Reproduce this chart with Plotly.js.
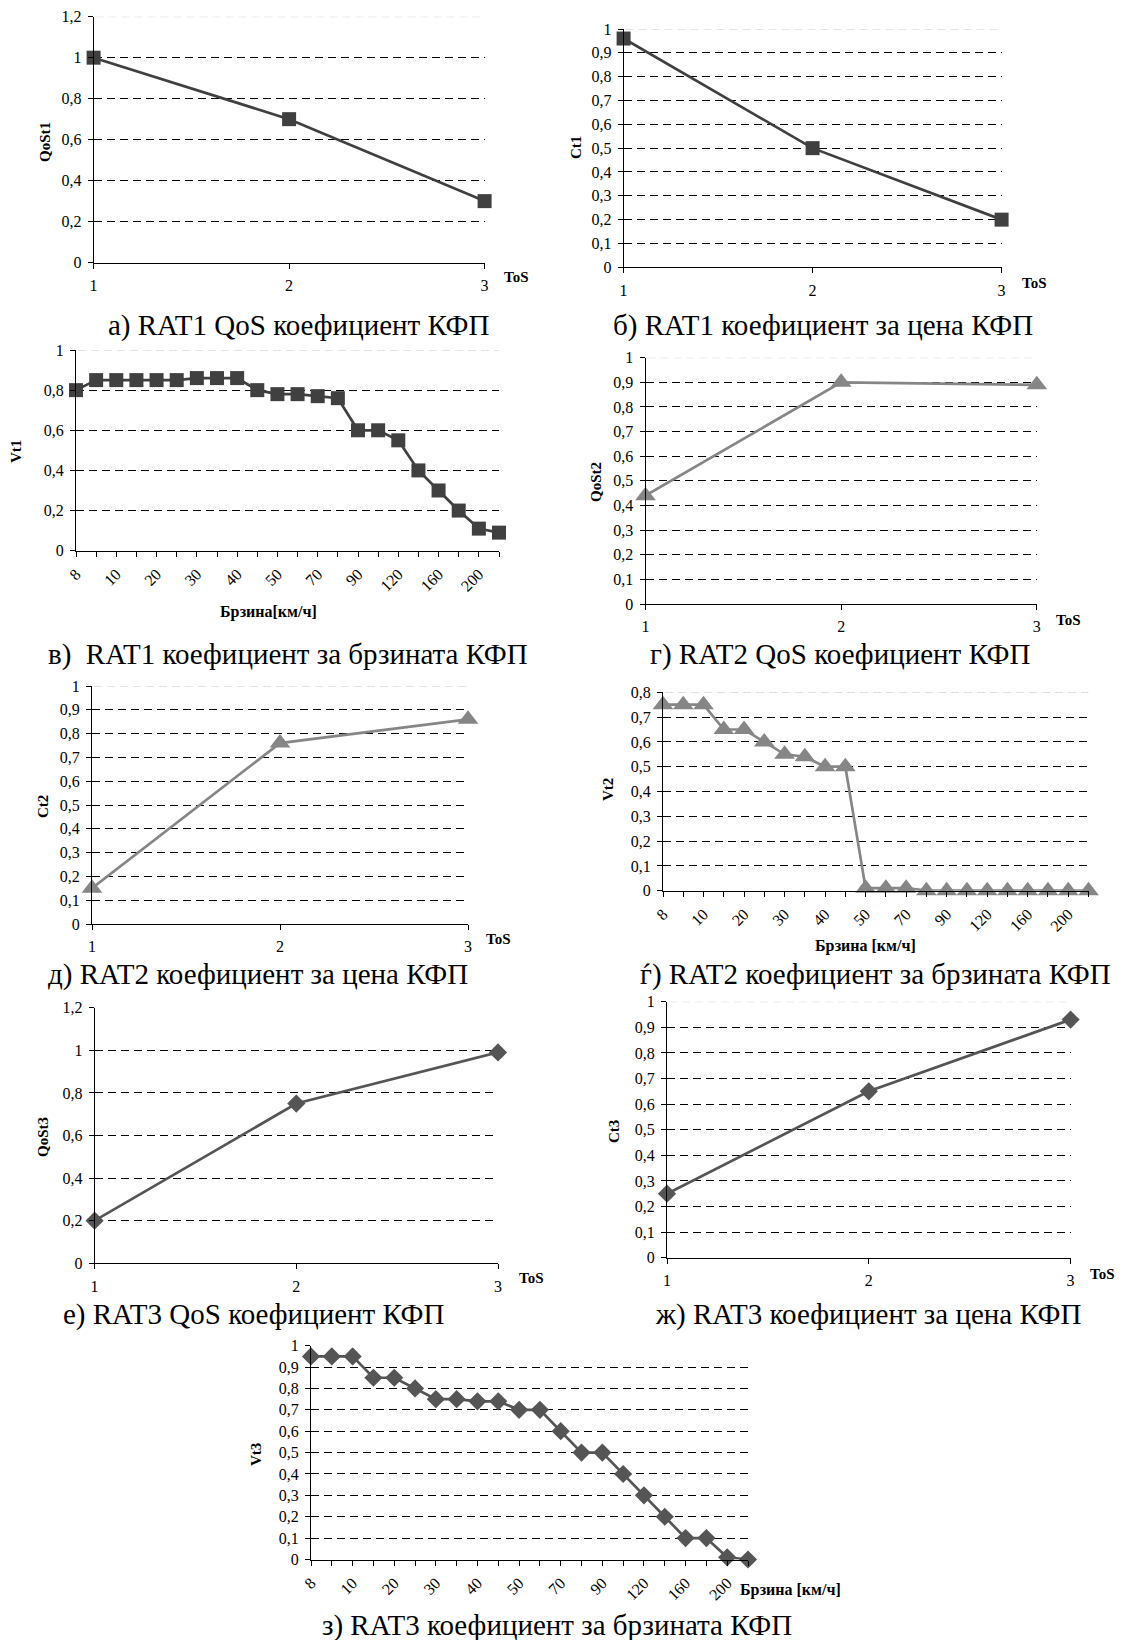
<!DOCTYPE html>
<html><head><meta charset="utf-8">
<script src="https://cdn.plot.ly/plotly-3.0.1.min.js"></script>
<style>body{margin:0;background:#fff}#c{width:1123px;height:1640px}</style>
</head><body><div id="c"></div><script>
// ---- data ----
const tos = [1, 2, 3];
const qosT1 = [1.00, 0.70, 0.30];
const cT1 = [0.96, 0.50, 0.20];
const qosT2 = [0.44, 0.90, 0.89];
const cT2 = [0.15, 0.76, 0.86];
const qosT3 = [0.20, 0.75, 0.99];
const cT3 = [0.25, 0.65, 0.93];
const speeds = ['8','9','10','15','20','25','30','35','40','45','50','60','70','80','90','100','120','140','160','180','200','220'];
const vT1 = [0.80,0.85,0.85,0.85,0.85,0.85,0.86,0.86,0.86,0.80,0.78,0.78,0.77,0.76,0.60,0.60,0.55,0.40,0.30,0.20,0.11,0.09];
const vT2 = [0.75,0.75,0.75,0.65,0.65,0.60,0.55,0.54,0.50,0.50,0.01,0.01,0.01,0,0,0,0,0,0,0,0,0];
const vT3 = [0.95,0.95,0.95,0.85,0.85,0.80,0.75,0.75,0.74,0.74,0.70,0.70,0.60,0.50,0.50,0.40,0.30,0.20,0.10,0.10,0.01,0];
const speedTickText = speeds.map((s, i) => (i % 2 === 0 ? s : ''));
const captions = [
  'а) RAT1 QoS коефициент КФП',
  'б) RAT1 коефициент за цена КФП',
  'в)  RAT1 коефициент за брзината КФП',
  'г) RAT2 QoS коефициент КФП',
  'д) RAT2 коефициент за цена КФП',
  'ѓ) RAT2 коефициент за брзината КФП',
  'е) RAT3 QoS коефициент КФП',
  'ж) RAT3 коефициент за цена КФП',
  'з) RAT3 коефициент за брзината КФП'
];
const yTitles = ['QoSt1','Ct1','Vt1','QoSt2','Ct2','Vt2','QoSt3','Ct3','Vt3'];

// ---- layout config (pixels) ----
const W = 1123, H = 1640;
const C1 = '#404040', C2 = '#868686', C3 = '#555555';
const FONT = 'Liberation Serif, serif';
const panels = [
  {x: tos, y: qosT1, kind:'tos', box:[93.6,484.6,16.7,262.6], ymax:1.2, dtick:0.2, col:C1, sym:'square', ms:14, topGray:true,
   cap:[298,325], yt:[45,142], xt:[516,277], xtText:'ToS'},
  {x: tos, y: cT1, kind:'tos', box:[623.6,1001.6,29,267.3], ymax:1, dtick:0.1, col:C1, sym:'square', ms:14, topGray:true,
   cap:[823,325], yt:[576,148], xt:[1034,283], xtText:'ToS'},
  {x: speeds, y: vT1, kind:'speed', box:[76,499,350,550.7], ymax:1, dtick:0.2, col:C1, sym:'square', ms:14, topGray:true,
   cap:[288,654], yt:[16,452], xt:[268,612], xtText:'Брзина[км/ч]'},
  {x: tos, y: qosT2, kind:'tos', box:[645.5,1036.8,357.7,604], ymax:1, dtick:0.1, col:C2, sym:'triangle-up', ms:18, topGray:true,
   cap:[840,654], yt:[596,482], xt:[1068,620], xtText:'ToS'},
  {x: tos, y: cT2, kind:'tos', box:[92,468,686,924], ymax:1, dtick:0.1, col:C2, sym:'triangle-up', ms:18, topGray:true,
   cap:[258,974], yt:[43,807], xt:[498,939], xtText:'ToS'},
  {x: speeds, y: vT2, kind:'speed', box:[663,1088.5,692.3,890.7], ymax:0.8, dtick:0.1, col:C2, sym:'triangle-up', ms:18, topGray:true,
   cap:[875,974], yt:[608,790], xt:[865,946], xtText:'Брзина [км/ч]'},
  {x: tos, y: qosT3, kind:'tos', box:[94.6,498,1007.7,1263.3], ymax:1.2, dtick:0.2, col:C3, sym:'diamond', ms:14, topGray:false,
   cap:[253,1314], yt:[43,1137], xt:[531,1278], xtText:'ToS'},
  {x: tos, y: cT3, kind:'tos', box:[667,1070.6,1001.7,1257.7], ymax:1, dtick:0.1, col:C3, sym:'diamond', ms:14, topGray:true,
   cap:[868,1314], yt:[614,1132], xt:[1102,1274], xtText:'ToS'},
  {x: speeds, y: vT3, kind:'speed', box:[311,748,1345.7,1559.5], ymax:1, dtick:0.1, col:C3, sym:'diamond', ms:14, topGray:false,
   cap:[557,1625], yt:[256,1455], xt:[790,1590], xtText:'Брзина [км/ч]'}
];

const px = v => v / W, py = v => 1 - v / H;
const data = [], layout = {
  width: W, height: H, margin: {l:0, r:0, t:0, b:0}, showlegend: false,
  paper_bgcolor: '#fff', plot_bgcolor: 'rgba(0,0,0,0)', separators: ', ',
  font: {family: FONT, color: '#000', size: 16},
  annotations: [], shapes: []
};

panels.forEach((p, i) => {
  const n = i === 0 ? '' : String(i + 1);
  const [x0, x1, yTop, yBot] = p.box;
  data.push({
    type: 'scatter', mode: 'lines+markers', x: p.x, y: p.y,
    xaxis: 'x' + n, yaxis: 'y' + n, cliponaxis: false,
    line: {color: p.col, width: 2.7},
    marker: {symbol: p.sym, size: p.ms, color: p.col, line: {width: 0}}
  });
  const xa = {
    domain: [px(x0), px(x1)], anchor: 'y' + n, showline: true, linecolor: '#000', linewidth: 1,
    ticks: 'outside', ticklen: 5, tickcolor: '#000', showgrid: false, zeroline: false,
    tickfont: {family: FONT, size: 16, color: '#000'}, fixedrange: true
  };
  if (p.kind === 'tos') {
    Object.assign(xa, {type: 'linear', range: [1, 3], tickmode: 'array', tickvals: tos, ticktext: tos.map(String), ticklabelstandoff: 3});
  } else {
    Object.assign(xa, {type: 'category', range: [0, speeds.length - 1], tickmode: 'array', tickvals: speeds, ticktext: speedTickText, tickangle: -45, ticklabelstandoff: 2});
  }
  const ya = {
    domain: [py(yBot), py(yTop)], anchor: 'x' + n, range: [0, p.ymax], dtick: p.dtick, tick0: 0,
    showline: true, linecolor: '#000', linewidth: 1, ticks: 'outside', ticklen: 5, tickcolor: '#000',
    showgrid: true, gridcolor: '#000', gridwidth: 1, griddash: '8px,5px', zeroline: false,
    tickfont: {family: FONT, size: 16, color: '#000'}, ticklabelstandoff: 3, fixedrange: true
  };
  layout['xaxis' + n] = xa;
  layout['yaxis' + n] = ya;
  // top gridline: lighter
  layout.shapes.push({type:'line', xref:'x' + n + ' domain', x0: 0.005, x1: 1, yref:'y' + n, y0: p.ymax, y1: p.ymax,
    line:{color:'#fff', width:3}, layer:'above'});
  if (p.topGray) {
    layout.shapes.push({type:'line', xref:'x' + n + ' domain', x0: 0.005, x1: 1, yref:'y' + n, y0: p.ymax, y1: p.ymax,
      line:{color:'#c8c8c8', width:1, dash:'8px,5px'}, layer:'above'});
  }
  // captions
  layout.annotations.push({text: captions[i], xref:'paper', yref:'paper', x: px(p.cap[0]), y: py(p.cap[1]),
    xanchor:'center', yanchor:'middle', showarrow:false, font:{family: FONT, size: 29, color:'#000'}});
  // y title
  layout.annotations.push({text: '<b>' + yTitles[i] + '</b>', xref:'paper', yref:'paper', x: px(p.yt[0]), y: py(p.yt[1]),
    xanchor:'center', yanchor:'middle', textangle: -90, showarrow:false, font:{family: FONT, size: 15, color:'#000'}});
  // x title
  layout.annotations.push({text: '<b>' + p.xtText + '</b>', xref:'paper', yref:'paper', x: px(p.xt[0]), y: py(p.xt[1]),
    xanchor:'center', yanchor:'middle', showarrow:false,
    font:{family: FONT, size: p.kind === 'tos' ? 15 : 16, color:'#000'}});
});

Plotly.newPlot('c', data, layout, {staticPlot: true, displayModeBar: false});
</script></body></html>
